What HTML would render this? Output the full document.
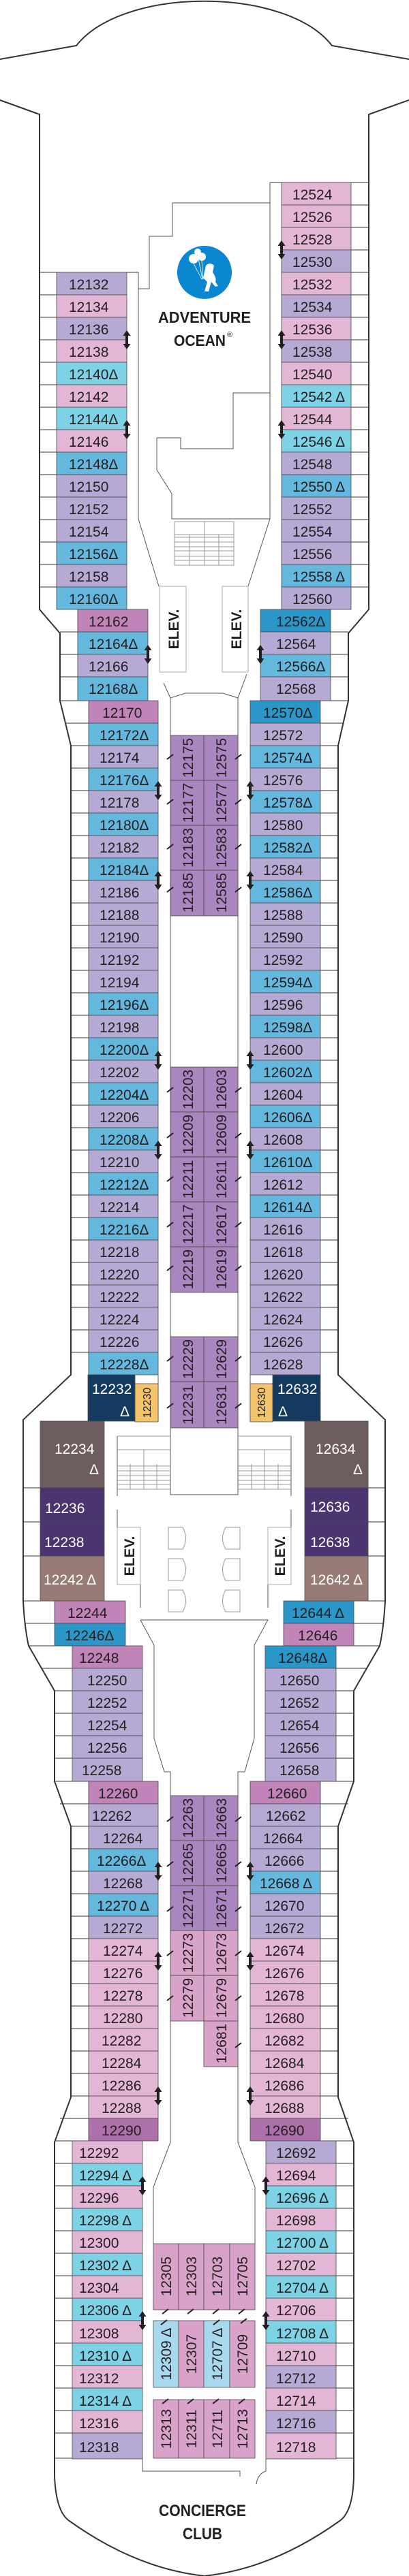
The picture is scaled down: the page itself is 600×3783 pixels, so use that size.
<!DOCTYPE html>
<html><head><meta charset="utf-8"><style>
html,body{margin:0;padding:0;background:#fff}
svg{display:block}
text{font-family:"Liberation Sans",sans-serif;font-size:21px;fill:#231f20}
.w{fill:#fff}
rect{stroke:#4a4a4a;stroke-width:.8}
.p{fill:#e4b6d5}.l{fill:#b6a9d3}.c{fill:#7dd3e5}.b{fill:#64b7dd}.d{fill:#2b97c8}.m{fill:#c084b9}
.u{fill:#a986bf}.k{fill:#d9a2c8}.v{fill:#ae70aa}.n{fill:#143b5f}.y{fill:#f3c46b}.r{fill:#6d5d5e}
.q{fill:#4a3570}.t{fill:#987b77}.lb{fill:#a7d8ee}
.ln{stroke:#555;stroke-width:1;fill:none}
.gl{stroke:#999;stroke-width:1;fill:none}
.bal{stroke:#333;stroke-width:1;fill:none}
.hd{font-weight:bold}
</style></head><body>
<svg width="600" height="3783" viewBox="0 0 600 3783" xmlns="http://www.w3.org/2000/svg">
<defs><path id="ar" d="M0,-14 L-5.5,-6 H-2 V6 H-5.5 L0,14 L5.5,6 H2 V-6 H5.5 Z" fill="#231f20"/></defs>
<!-- hull -->
<path d="M0,87 L112,67 C180,-20 420,-20 487,67 L600,87" stroke="#333" stroke-width="2" fill="none"/>
<path d="M0,147 L58,168 L58,895 L88,930 L88,1029 L104,1095 L104,2019 L34,2085 L34,2351 Q36,2390 42,2417 L80,2483 L80,2616 L104,2682 L104,3080 L80,3146 L80,3636 Q82,3690 103,3703 Q200,3772 300,3783 Q400,3772 497,3703 Q518,3690 519,3636 L519,3146 L496,3080 L496,2682 L519,2616 L519,2483 L557,2417 Q563,2390 565,2351 L565,2085 L496,2019 L496,1095 L511,1029 L511,930 L541,895 L541,168 L600,147" stroke="#333" stroke-width="2" fill="none"/>
<!-- balcony lines -->
<path class="bal" d="M58,400H203 M58,433H83 M58,466H83 M58,499H83 M58,532H83 M58,565H83 M58,598H83 M58,631H83 M58,664H83 M58,697H83 M58,730H83 M58,763H83 M58,796H83 M58,829H83 M58,862H83
M396,268H541 M515,301H541 M515,334H541 M515,367H541 M515,400H541 M515,433H541 M515,466H541 M515,499H541 M515,532H541 M515,565H541 M515,598H541 M515,631H541 M515,664H541 M515,697H541 M515,730H541 M515,763H541 M515,796H541 M515,829H541 M515,862H541
M88,928H114 M88,961H114 M88,994H114 M88,1029H130 M96,1062H130 M104,1095H130
M485,928H511 M485,961H511 M485,994H511 M470,1029H511 M470,1062H503 M470,1095H496
M104,1128H130 M104,1161H130 M104,1194H130 M104,1227H130 M104,1260H130 M104,1293H130 M104,1326H130 M104,1359H130 M104,1392H130 M104,1425H130 M104,1458H130 M104,1491H130 M104,1524H130 M104,1557H130 M104,1590H130 M104,1623H130 M104,1656H130 M104,1689H130 M104,1722H130 M104,1755H130 M104,1788H130 M104,1821H130 M104,1854H130 M104,1887H130 M104,1920H130 M104,1953H130 M104,1986H130
M470,1128H496 M470,1161H496 M470,1194H496 M470,1227H496 M470,1260H496 M470,1293H496 M470,1326H496 M470,1359H496 M470,1392H496 M470,1425H496 M470,1458H496 M470,1491H496 M470,1524H496 M470,1557H496 M470,1590H496 M470,1623H496 M470,1656H496 M470,1689H496 M470,1722H496 M470,1755H496 M470,1788H496 M470,1821H496 M470,1854H496 M470,1887H496 M470,1920H496 M470,1953H496 M470,1986H496
M34,2185H59 M34,2235H59 M34,2285H59 M34,2351H80 M540,2185H565 M540,2235H565 M540,2285H565 M519,2351H565
M37,2384H80 M42,2417H106 M62,2450H106 M80,2483H106 M80,2516H106 M80,2549H106 M80,2582H106 M80,2616H130 M88,2649H130
M519,2384H562 M493,2417H557 M493,2450H538 M493,2483H519 M493,2516H519 M493,2549H519 M493,2582H519 M470,2616H519 M470,2649H511
M104,2682H130 M104,2715H130 M104,2748H130 M104,2781H130 M104,2814H130 M104,2847H130 M104,2880H130 M104,2913H130 M104,2946H130 M104,2979H130 M104,3012H130 M104,3045H130 M104,3078H130 M88,3111H130 M80,3144H130
M470,2682H496 M470,2715H496 M470,2748H496 M470,2781H496 M470,2814H496 M470,2847H496 M470,2880H496 M470,2913H496 M470,2946H496 M470,2979H496 M470,3012H496 M470,3045H496 M470,3078H496 M470,3111H511 M470,3144H519
M80,3177H106 M80,3210H106 M80,3243H106 M80,3276H106 M80,3309H106 M80,3342H106 M80,3375H106 M80,3408H106 M80,3441H106 M80,3474H106 M80,3507H106 M80,3540H106 M80,3573H106 M80,3610H106
M493,3177H519 M493,3210H519 M493,3243H519 M493,3276H519 M493,3309H519 M493,3342H519 M493,3375H519 M493,3408H519 M493,3441H519 M493,3474H519 M493,3507H519 M493,3540H519 M493,3573H519 M493,3610H519"/>
<!-- interior lines -->
<path class="ln" d="M203,400 V762 L233,861 M203,424 H219 V347 H253 V298 H396 M396,268 V762 L364,861 M396,577 H342 V659 H265 V643 H230 V690 L252,725 V762 H396
M240,1003 L250,1025 L272,1018 H327 L349,1025 L362,990
M250,1025 V2195 H349 V1025
M232,2019 V2088 M367,2019 V2088
M172,2109 V2197 M172,2217 V2243 M206,2327 V2361 M427,2109 V2197 M427,2217 V2243 M393,2327 V2361
M206,2379 H393 L373,2416 V2553 L359,2602 H349 V3146 L374,3212 V3295 M206,2379 L226,2416 V2553 L241,2602 H250 V3146 L225,3212 V3295
M209,3611 V3629 H352 V3637 M390,3611 V3629 Q378,3633 376,3648"/>
<path class="gl" d="M256,766 H343 V830 H256 Z M300,766 V830 M256,785 H343 M256,789 H343 M256,796 H343 M256,803 H343 M256,809 H343 M256,817 H343 M256,823 H343 M278,785 V830 M321,785 V830
M172,2109 H250 M172,2129 H250 M211,2129 V2187 M191,2150 V2187 M230,2150 V2187 M172,2153 H250 M172,2160 H250 M172,2167 H250 M172,2174 H250 M172,2180 H250 M172,2187 H250
M349,2109 H427 M349,2129 H427 M388,2129 V2187 M408,2150 V2187 M369,2150 V2187 M349,2153 H427 M349,2160 H427 M349,2167 H427 M349,2174 H427 M349,2180 H427 M349,2187 H427
M247,2243 H268 Q277,2259 268,2275 H247 Z M247,2289 H268 Q277,2305 268,2321 H247 Z M247,2335 H268 Q277,2351 268,2367 H247 Z
M352,2243 H331 Q322,2259 331,2275 H352 Z M352,2289 H331 Q322,2305 331,2321 H352 Z M352,2335 H331 Q322,2351 331,2367 H352 Z"/>
<!-- ELEV -->
<rect x="234" y="861" width="39" height="126" class="w" style="stroke:#999"/>
<rect x="326" y="861" width="38" height="126" class="w" style="stroke:#999"/>
<rect x="172" y="2243" width="34" height="84" class="w" style="stroke:#999"/>
<rect x="393" y="2243" width="34" height="84" class="w" style="stroke:#999"/>
<g class="hd" style="font-size:20px">
<text transform="translate(262,924) rotate(-90)" text-anchor="middle" class="hd">ELEV.</text>
<text transform="translate(354,924) rotate(-90)" text-anchor="middle" class="hd">ELEV.</text>
<text transform="translate(197,2285) rotate(-90)" text-anchor="middle" class="hd">ELEV.</text>
<text transform="translate(418,2285) rotate(-90)" text-anchor="middle" class="hd">ELEV.</text>
</g>
<!-- Adventure Ocean -->
<ellipse cx="300" cy="400" rx="40" ry="39" fill="#0a87d0"/>
<g fill="#fff"><circle cx="284" cy="380" r="7"/><circle cx="296" cy="377" r="6"/><circle cx="290" cy="370" r="5"/>
<path d="M302,390 q6,-6 12,0 l-2,10 q6,8 4,14 l4,6 -4,1 -6,-7 -4,14 -6,0 4,-14 -6,-6 z"/></g>
<path d="M284,387 L296,410 M296,383 L298,410 M290,375 L297,410" stroke="#fff" stroke-width="0.8"/>
<text x="300" y="474" text-anchor="middle" class="hd" style="font-size:23px" textLength="136" lengthAdjust="spacingAndGlyphs">ADVENTURE</text>
<text x="255" y="508" class="hd" style="font-size:23px" textLength="76" lengthAdjust="spacingAndGlyphs">OCEAN</text>
<text x="333" y="495" style="font-size:11px">®</text>
<text x="297" y="3695" text-anchor="middle" class="hd" style="font-size:24px" textLength="128" lengthAdjust="spacingAndGlyphs">CONCIERGE</text>
<text x="297" y="3729" text-anchor="middle" class="hd" style="font-size:24px" textLength="58" lengthAdjust="spacingAndGlyphs">CLUB</text>

<!-- Left A -->
<rect x="83" y="400" width="103" height="33" class="l"/><text x="101" y="425">12132</text>
<rect x="83" y="433" width="103" height="33" class="p"/><text x="101" y="458">12134</text>
<rect x="83" y="466" width="103" height="33" class="l"/><text x="101" y="491">12136</text>
<rect x="83" y="499" width="103" height="33" class="p"/><text x="101" y="524">12138</text>
<rect x="83" y="532" width="103" height="33" class="c"/><text x="101" y="557">12140Δ</text>
<rect x="83" y="565" width="103" height="33" class="p"/><text x="101" y="590">12142</text>
<rect x="83" y="598" width="103" height="33" class="c"/><text x="101" y="623">12144Δ</text>
<rect x="83" y="631" width="103" height="33" class="p"/><text x="101" y="656">12146</text>
<rect x="83" y="664" width="103" height="33" class="b"/><text x="101" y="689">12148Δ</text>
<rect x="83" y="697" width="103" height="33" class="l"/><text x="101" y="722">12150</text>
<rect x="83" y="730" width="103" height="33" class="l"/><text x="101" y="755">12152</text>
<rect x="83" y="763" width="103" height="33" class="l"/><text x="101" y="788">12154</text>
<rect x="83" y="796" width="103" height="33" class="b"/><text x="101" y="821">12156Δ</text>
<rect x="83" y="829" width="103" height="33" class="l"/><text x="101" y="854">12158</text>
<rect x="83" y="862" width="103" height="33" class="b"/><text x="101" y="887">12160Δ</text>
<!-- Right A -->
<rect x="413" y="268" width="102" height="33" class="p"/><text x="429" y="293">12524</text>
<rect x="413" y="301" width="102" height="33" class="p"/><text x="429" y="326">12526</text>
<rect x="413" y="334" width="102" height="33" class="p"/><text x="429" y="359">12528</text>
<rect x="413" y="367" width="102" height="33" class="l"/><text x="429" y="392">12530</text>
<rect x="413" y="400" width="102" height="33" class="p"/><text x="429" y="425">12532</text>
<rect x="413" y="433" width="102" height="33" class="l"/><text x="429" y="458">12534</text>
<rect x="413" y="466" width="102" height="33" class="p"/><text x="429" y="491">12536</text>
<rect x="413" y="499" width="102" height="33" class="l"/><text x="429" y="524">12538</text>
<rect x="413" y="532" width="102" height="33" class="p"/><text x="429" y="557">12540</text>
<rect x="413" y="565" width="102" height="33" class="c"/><text x="429" y="590">12542 Δ</text>
<rect x="413" y="598" width="102" height="33" class="p"/><text x="429" y="623">12544</text>
<rect x="413" y="631" width="102" height="33" class="c"/><text x="429" y="656">12546 Δ</text>
<rect x="413" y="664" width="102" height="33" class="l"/><text x="429" y="689">12548</text>
<rect x="413" y="697" width="102" height="33" class="b"/><text x="429" y="722">12550 Δ</text>
<rect x="413" y="730" width="102" height="33" class="l"/><text x="429" y="755">12552</text>
<rect x="413" y="763" width="102" height="33" class="l"/><text x="429" y="788">12554</text>
<rect x="413" y="796" width="102" height="33" class="l"/><text x="429" y="821">12556</text>
<rect x="413" y="829" width="102" height="33" class="b"/><text x="429" y="854">12558 Δ</text>
<rect x="413" y="862" width="102" height="33" class="l"/><text x="429" y="887">12560</text>
<!-- B -->
<rect x="114" y="895" width="103" height="33" class="m"/><text x="130" y="920">12162</text>
<rect x="114" y="928" width="103" height="33" class="b"/><text x="130" y="953">12164Δ</text>
<rect x="114" y="961" width="103" height="33" class="l"/><text x="130" y="986">12166</text>
<rect x="114" y="994" width="103" height="35" class="b"/><text x="130" y="1019">12168Δ</text>
<rect x="382" y="895" width="103" height="33" class="d"/><text x="405" y="920">12562Δ</text>
<rect x="382" y="928" width="103" height="33" class="l"/><text x="405" y="953">12564</text>
<rect x="382" y="961" width="103" height="33" class="b"/><text x="405" y="986">12566Δ</text>
<rect x="382" y="994" width="103" height="35" class="l"/><text x="405" y="1019">12568</text>
<!-- Left C -->
<rect x="130" y="1029" width="102" height="33" class="m"/><text x="150" y="1054">12170</text>
<rect x="130" y="1062" width="102" height="33" class="b"/><text x="146" y="1087">12172Δ</text>
<rect x="130" y="1095" width="102" height="33" class="l"/><text x="146" y="1120">12174</text>
<rect x="130" y="1128" width="102" height="33" class="b"/><text x="146" y="1153">12176Δ</text>
<rect x="130" y="1161" width="102" height="33" class="l"/><text x="146" y="1186">12178</text>
<rect x="130" y="1194" width="102" height="33" class="b"/><text x="146" y="1219">12180Δ</text>
<rect x="130" y="1227" width="102" height="33" class="l"/><text x="146" y="1252">12182</text>
<rect x="130" y="1260" width="102" height="33" class="b"/><text x="146" y="1285">12184Δ</text>
<rect x="130" y="1293" width="102" height="33" class="l"/><text x="146" y="1318">12186</text>
<rect x="130" y="1326" width="102" height="33" class="l"/><text x="146" y="1351">12188</text>
<rect x="130" y="1359" width="102" height="33" class="l"/><text x="146" y="1384">12190</text>
<rect x="130" y="1392" width="102" height="33" class="l"/><text x="146" y="1417">12192</text>
<rect x="130" y="1425" width="102" height="33" class="l"/><text x="146" y="1450">12194</text>
<rect x="130" y="1458" width="102" height="33" class="b"/><text x="146" y="1483">12196Δ</text>
<rect x="130" y="1491" width="102" height="33" class="l"/><text x="146" y="1516">12198</text>
<rect x="130" y="1524" width="102" height="33" class="b"/><text x="146" y="1549">12200Δ</text>
<rect x="130" y="1557" width="102" height="33" class="l"/><text x="146" y="1582">12202</text>
<rect x="130" y="1590" width="102" height="33" class="b"/><text x="146" y="1615">12204Δ</text>
<rect x="130" y="1623" width="102" height="33" class="l"/><text x="146" y="1648">12206</text>
<rect x="130" y="1656" width="102" height="33" class="b"/><text x="146" y="1681">12208Δ</text>
<rect x="130" y="1689" width="102" height="33" class="l"/><text x="146" y="1714">12210</text>
<rect x="130" y="1722" width="102" height="33" class="b"/><text x="146" y="1747">12212Δ</text>
<rect x="130" y="1755" width="102" height="33" class="l"/><text x="146" y="1780">12214</text>
<rect x="130" y="1788" width="102" height="33" class="b"/><text x="146" y="1813">12216Δ</text>
<rect x="130" y="1821" width="102" height="33" class="l"/><text x="146" y="1846">12218</text>
<rect x="130" y="1854" width="102" height="33" class="l"/><text x="146" y="1879">12220</text>
<rect x="130" y="1887" width="102" height="33" class="l"/><text x="146" y="1912">12222</text>
<rect x="130" y="1920" width="102" height="33" class="l"/><text x="146" y="1945">12224</text>
<rect x="130" y="1953" width="102" height="33" class="l"/><text x="146" y="1978">12226</text>
<rect x="130" y="1986" width="102" height="33" class="b"/><text x="146" y="2011">12228Δ</text>
<!-- Right C -->
<rect x="367" y="1029" width="103" height="33" class="d"/><text x="386" y="1054">12570Δ</text>
<rect x="367" y="1062" width="103" height="33" class="l"/><text x="386" y="1087">12572</text>
<rect x="367" y="1095" width="103" height="33" class="b"/><text x="386" y="1120">12574Δ</text>
<rect x="367" y="1128" width="103" height="33" class="l"/><text x="386" y="1153">12576</text>
<rect x="367" y="1161" width="103" height="33" class="b"/><text x="386" y="1186">12578Δ</text>
<rect x="367" y="1194" width="103" height="33" class="l"/><text x="386" y="1219">12580</text>
<rect x="367" y="1227" width="103" height="33" class="b"/><text x="386" y="1252">12582Δ</text>
<rect x="367" y="1260" width="103" height="33" class="l"/><text x="386" y="1285">12584</text>
<rect x="367" y="1293" width="103" height="33" class="b"/><text x="386" y="1318">12586Δ</text>
<rect x="367" y="1326" width="103" height="33" class="l"/><text x="386" y="1351">12588</text>
<rect x="367" y="1359" width="103" height="33" class="l"/><text x="386" y="1384">12590</text>
<rect x="367" y="1392" width="103" height="33" class="l"/><text x="386" y="1417">12592</text>
<rect x="367" y="1425" width="103" height="33" class="b"/><text x="386" y="1450">12594Δ</text>
<rect x="367" y="1458" width="103" height="33" class="l"/><text x="386" y="1483">12596</text>
<rect x="367" y="1491" width="103" height="33" class="b"/><text x="386" y="1516">12598Δ</text>
<rect x="367" y="1524" width="103" height="33" class="l"/><text x="386" y="1549">12600</text>
<rect x="367" y="1557" width="103" height="33" class="b"/><text x="386" y="1582">12602Δ</text>
<rect x="367" y="1590" width="103" height="33" class="l"/><text x="386" y="1615">12604</text>
<rect x="367" y="1623" width="103" height="33" class="b"/><text x="386" y="1648">12606Δ</text>
<rect x="367" y="1656" width="103" height="33" class="l"/><text x="386" y="1681">12608</text>
<rect x="367" y="1689" width="103" height="33" class="b"/><text x="386" y="1714">12610Δ</text>
<rect x="367" y="1722" width="103" height="33" class="l"/><text x="386" y="1747">12612</text>
<rect x="367" y="1755" width="103" height="33" class="b"/><text x="386" y="1780">12614Δ</text>
<rect x="367" y="1788" width="103" height="33" class="l"/><text x="386" y="1813">12616</text>
<rect x="367" y="1821" width="103" height="33" class="l"/><text x="386" y="1846">12618</text>
<rect x="367" y="1854" width="103" height="33" class="l"/><text x="386" y="1879">12620</text>
<rect x="367" y="1887" width="103" height="33" class="l"/><text x="386" y="1912">12622</text>
<rect x="367" y="1920" width="103" height="33" class="l"/><text x="386" y="1945">12624</text>
<rect x="367" y="1953" width="103" height="33" class="l"/><text x="386" y="1978">12626</text>
<rect x="367" y="1986" width="103" height="33" class="l"/><text x="386" y="2011">12628</text>
<!-- Center blocks 1 -->
<g>
<rect x="250" y="1080" width="49" height="66" class="u"/><rect x="299" y="1080" width="50" height="66" class="u"/>
<rect x="250" y="1146" width="49" height="66" class="u"/><rect x="299" y="1146" width="50" height="66" class="u"/>
<rect x="250" y="1212" width="49" height="66" class="u"/><rect x="299" y="1212" width="50" height="66" class="u"/>
<rect x="250" y="1278" width="49" height="67" class="u"/><rect x="299" y="1278" width="50" height="67" class="u"/>
<rect x="250" y="1567" width="49" height="66" class="u"/><rect x="299" y="1567" width="50" height="66" class="u"/>
<rect x="250" y="1633" width="49" height="66" class="u"/><rect x="299" y="1633" width="50" height="66" class="u"/>
<rect x="250" y="1699" width="49" height="66" class="u"/><rect x="299" y="1699" width="50" height="66" class="u"/>
<rect x="250" y="1765" width="49" height="66" class="u"/><rect x="299" y="1765" width="50" height="66" class="u"/>
<rect x="250" y="1831" width="49" height="67" class="u"/><rect x="299" y="1831" width="50" height="67" class="u"/>
<rect x="250" y="1963" width="49" height="66" class="u"/><rect x="299" y="1963" width="50" height="66" class="u"/>
<rect x="250" y="2029" width="49" height="68" class="u"/><rect x="299" y="2029" width="50" height="68" class="u"/>
</g>
<g text-anchor="middle">
<text transform="translate(283,1113) rotate(-90)">12175</text><text transform="translate(332,1113) rotate(-90)">12575</text>
<text transform="translate(283,1179) rotate(-90)">12177</text><text transform="translate(332,1179) rotate(-90)">12577</text>
<text transform="translate(283,1245) rotate(-90)">12183</text><text transform="translate(332,1245) rotate(-90)">12583</text>
<text transform="translate(283,1311) rotate(-90)">12185</text><text transform="translate(332,1311) rotate(-90)">12585</text>
<text transform="translate(283,1600) rotate(-90)">12203</text><text transform="translate(332,1600) rotate(-90)">12603</text>
<text transform="translate(283,1666) rotate(-90)">12209</text><text transform="translate(332,1666) rotate(-90)">12609</text>
<text transform="translate(283,1732) rotate(-90)">12211</text><text transform="translate(332,1732) rotate(-90)">12611</text>
<text transform="translate(283,1798) rotate(-90)">12217</text><text transform="translate(332,1798) rotate(-90)">12617</text>
<text transform="translate(283,1864) rotate(-90)">12219</text><text transform="translate(332,1864) rotate(-90)">12619</text>
<text transform="translate(283,1996) rotate(-90)">12229</text><text transform="translate(332,1996) rotate(-90)">12629</text>
<text transform="translate(283,2063) rotate(-90)">12231</text><text transform="translate(332,2063) rotate(-90)">12631</text>
</g>
<!-- 12232/12632 -->
<rect x="129" y="2019" width="69" height="68" class="n"/><text x="135" y="2047" class="w" style="fill:#fff">12232</text><text x="176" y="2080" style="fill:#fff">Δ</text>
<rect x="198" y="2032" width="34" height="56" class="y"/><text transform="translate(221,2060) rotate(-90)" text-anchor="middle" style="font-size:16px">12230</text>
<rect x="400" y="2019" width="70" height="68" class="n"/><text x="407" y="2047" style="fill:#fff">12632</text><text x="408" y="2080" style="fill:#fff">Δ</text>
<rect x="367" y="2032" width="33" height="56" class="y"/><text transform="translate(389,2060) rotate(-90)" text-anchor="middle" style="font-size:16px">12630</text>
<!-- D -->
<rect x="59" y="2087" width="94" height="98" class="r"/><text x="80" y="2135" style="fill:#fff">12234</text><text x="131" y="2165" style="fill:#fff">Δ</text>
<rect x="59" y="2185" width="94" height="50" class="q"/><text x="66" y="2222" style="fill:#fff">12236</text>
<rect x="59" y="2235" width="94" height="50" class="q"/><text x="65" y="2272" style="fill:#fff">12238</text>
<rect x="59" y="2285" width="94" height="66" class="t"/><text x="64" y="2327" style="fill:#fff">12242 Δ</text>
<rect x="447" y="2087" width="93" height="98" class="r"/><text x="463" y="2135" style="fill:#fff">12634</text><text x="518" y="2165" style="fill:#fff">Δ</text>
<rect x="447" y="2185" width="93" height="50" class="q"/><text x="455" y="2220" style="fill:#fff">12636</text>
<rect x="447" y="2235" width="93" height="50" class="q"/><text x="455" y="2272" style="fill:#fff">12638</text>
<rect x="447" y="2285" width="93" height="66" class="t"/><text x="455" y="2327" style="fill:#fff">12642 Δ</text>
<!-- E F -->
<rect x="80" y="2351" width="104" height="33" class="m"/><text x="99" y="2376">12244</text>
<rect x="80" y="2384" width="104" height="33" class="d"/><text x="95" y="2409">12246Δ</text>
<rect x="416" y="2351" width="103" height="33" class="d"/><text x="428" y="2376">12644 Δ</text>
<rect x="416" y="2384" width="103" height="33" class="m"/><text x="437" y="2409">12646</text>
<rect x="106" y="2417" width="103" height="33" class="m"/><text x="116" y="2442">12248</text>
<rect x="106" y="2450" width="103" height="33" class="l"/><text x="128" y="2475">12250</text>
<rect x="106" y="2483" width="103" height="33" class="l"/><text x="128" y="2508">12252</text>
<rect x="106" y="2516" width="103" height="33" class="l"/><text x="128" y="2541">12254</text>
<rect x="106" y="2549" width="103" height="33" class="l"/><text x="128" y="2574">12256</text>
<rect x="106" y="2582" width="103" height="34" class="l"/><text x="120" y="2607">12258</text>
<rect x="389" y="2417" width="104" height="33" class="d"/><text x="408" y="2442">12648Δ</text>
<rect x="389" y="2450" width="104" height="33" class="l"/><text x="410" y="2475">12650</text>
<rect x="389" y="2483" width="104" height="33" class="l"/><text x="410" y="2508">12652</text>
<rect x="389" y="2516" width="104" height="33" class="l"/><text x="410" y="2541">12654</text>
<rect x="389" y="2549" width="104" height="33" class="l"/><text x="410" y="2574">12656</text>
<rect x="389" y="2582" width="104" height="34" class="l"/><text x="410" y="2607">12658</text>
<!-- G left -->
<rect x="130" y="2616" width="102" height="33" class="m"/><text x="144" y="2641">12260</text>
<rect x="130" y="2649" width="102" height="33" class="l"/><text x="135" y="2674">12262</text>
<rect x="130" y="2682" width="102" height="33" class="l"/><text x="151" y="2707">12264</text>
<rect x="130" y="2715" width="102" height="33" class="b"/><text x="142" y="2740">12266Δ</text>
<rect x="130" y="2748" width="102" height="33" class="l"/><text x="151" y="2773">12268</text>
<rect x="130" y="2781" width="102" height="33" class="b"/><text x="142" y="2806">12270 Δ</text>
<rect x="130" y="2814" width="102" height="33" class="l"/><text x="151" y="2839">12272</text>
<rect x="130" y="2847" width="102" height="33" class="p"/><text x="151" y="2872">12274</text>
<rect x="130" y="2880" width="102" height="33" class="p"/><text x="151" y="2905">12276</text>
<rect x="130" y="2913" width="102" height="33" class="p"/><text x="151" y="2938">12278</text>
<rect x="130" y="2946" width="102" height="33" class="p"/><text x="151" y="2971">12280</text>
<rect x="130" y="2979" width="102" height="33" class="p"/><text x="149" y="3004">12282</text>
<rect x="130" y="3012" width="102" height="33" class="p"/><text x="149" y="3037">12284</text>
<rect x="130" y="3045" width="102" height="33" class="p"/><text x="149" y="3070">12286</text>
<rect x="130" y="3078" width="102" height="33" class="p"/><text x="149" y="3103">12288</text>
<rect x="130" y="3111" width="102" height="33" class="v"/><text x="149" y="3136">12290</text>
<!-- G right -->
<rect x="367" y="2616" width="103" height="33" class="m"/><text x="392" y="2641">12660</text>
<rect x="367" y="2649" width="103" height="33" class="l"/><text x="390" y="2674">12662</text>
<rect x="367" y="2682" width="103" height="33" class="l"/><text x="386" y="2707">12664</text>
<rect x="367" y="2715" width="103" height="33" class="l"/><text x="388" y="2740">12666</text>
<rect x="367" y="2748" width="103" height="33" class="b"/><text x="381" y="2773">12668 Δ</text>
<rect x="367" y="2781" width="103" height="33" class="l"/><text x="388" y="2806">12670</text>
<rect x="367" y="2814" width="103" height="33" class="l"/><text x="388" y="2839">12672</text>
<rect x="367" y="2847" width="103" height="33" class="p"/><text x="388" y="2872">12674</text>
<rect x="367" y="2880" width="103" height="33" class="p"/><text x="388" y="2905">12676</text>
<rect x="367" y="2913" width="103" height="33" class="p"/><text x="388" y="2938">12678</text>
<rect x="367" y="2946" width="103" height="33" class="p"/><text x="388" y="2971">12680</text>
<rect x="367" y="2979" width="103" height="33" class="p"/><text x="388" y="3004">12682</text>
<rect x="367" y="3012" width="103" height="33" class="p"/><text x="388" y="3037">12684</text>
<rect x="367" y="3045" width="103" height="33" class="p"/><text x="388" y="3070">12686</text>
<rect x="367" y="3078" width="103" height="33" class="p"/><text x="388" y="3103">12688</text>
<rect x="367" y="3111" width="103" height="33" class="v"/><text x="388" y="3136">12690</text>
<!-- center G -->
<rect x="250" y="2637" width="49" height="66" class="u"/><rect x="299" y="2637" width="50" height="66" class="u"/>
<rect x="250" y="2703" width="49" height="66" class="u"/><rect x="299" y="2703" width="50" height="66" class="u"/>
<rect x="250" y="2769" width="49" height="66" class="u"/><rect x="299" y="2769" width="50" height="66" class="u"/>
<rect x="250" y="2835" width="49" height="66" class="k"/><rect x="299" y="2835" width="50" height="66" class="k"/>
<rect x="250" y="2901" width="49" height="67" class="k"/><rect x="299" y="2901" width="50" height="67" class="k"/>
<rect x="299" y="2968" width="50" height="67" class="k"/>
<g text-anchor="middle">
<text transform="translate(283,2670) rotate(-90)">12263</text><text transform="translate(332,2670) rotate(-90)">12663</text>
<text transform="translate(283,2736) rotate(-90)">12265</text><text transform="translate(332,2736) rotate(-90)">12665</text>
<text transform="translate(283,2802) rotate(-90)">12271</text><text transform="translate(332,2802) rotate(-90)">12671</text>
<text transform="translate(283,2868) rotate(-90)">12273</text><text transform="translate(332,2868) rotate(-90)">12673</text>
<text transform="translate(283,2934) rotate(-90)">12279</text><text transform="translate(332,2934) rotate(-90)">12679</text>
<text transform="translate(332,3001) rotate(-90)">12681</text>
</g>
<!-- H left -->
<rect x="106" y="3144" width="103" height="33" class="p"/><text x="116" y="3169">12292</text>
<rect x="106" y="3177" width="103" height="33" class="c"/><text x="116" y="3202">12294 Δ</text>
<rect x="106" y="3210" width="103" height="33" class="p"/><text x="116" y="3235">12296</text>
<rect x="106" y="3243" width="103" height="33" class="c"/><text x="116" y="3268">12298 Δ</text>
<rect x="106" y="3276" width="103" height="33" class="p"/><text x="116" y="3301">12300</text>
<rect x="106" y="3309" width="103" height="33" class="c"/><text x="116" y="3334">12302 Δ</text>
<rect x="106" y="3342" width="103" height="33" class="p"/><text x="116" y="3367">12304</text>
<rect x="106" y="3375" width="103" height="33" class="c"/><text x="116" y="3400">12306 Δ</text>
<rect x="106" y="3408" width="103" height="33" class="p"/><text x="116" y="3434">12308</text>
<rect x="106" y="3441" width="103" height="33" class="c"/><text x="116" y="3467">12310 Δ</text>
<rect x="106" y="3474" width="103" height="33" class="p"/><text x="116" y="3500">12312</text>
<rect x="106" y="3507" width="103" height="33" class="c"/><text x="116" y="3533">12314 Δ</text>
<rect x="106" y="3540" width="103" height="33" class="p"/><text x="116" y="3566">12316</text>
<rect x="106" y="3573" width="103" height="38" class="l"/><text x="116" y="3601">12318</text>
<!-- H right -->
<rect x="390" y="3144" width="103" height="33" class="l"/><text x="405" y="3169">12692</text>
<rect x="390" y="3177" width="103" height="33" class="p"/><text x="405" y="3202">12694</text>
<rect x="390" y="3210" width="103" height="33" class="c"/><text x="405" y="3235">12696 Δ</text>
<rect x="390" y="3243" width="103" height="33" class="p"/><text x="405" y="3268">12698</text>
<rect x="390" y="3276" width="103" height="33" class="c"/><text x="405" y="3301">12700 Δ</text>
<rect x="390" y="3309" width="103" height="33" class="p"/><text x="405" y="3334">12702</text>
<rect x="390" y="3342" width="103" height="33" class="c"/><text x="405" y="3367">12704 Δ</text>
<rect x="390" y="3375" width="103" height="33" class="p"/><text x="405" y="3400">12706</text>
<rect x="390" y="3408" width="103" height="33" class="c"/><text x="405" y="3434">12708 Δ</text>
<rect x="390" y="3441" width="103" height="33" class="p"/><text x="405" y="3467">12710</text>
<rect x="390" y="3474" width="103" height="33" class="l"/><text x="405" y="3500">12712</text>
<rect x="390" y="3507" width="103" height="33" class="p"/><text x="405" y="3533">12714</text>
<rect x="390" y="3540" width="103" height="33" class="l"/><text x="405" y="3566">12716</text>
<rect x="390" y="3573" width="103" height="38" class="p"/><text x="405" y="3601">12718</text>
<!-- bottom center block -->
<rect x="225" y="3295" width="37" height="97" class="k"/><rect x="262" y="3295" width="37" height="97" class="k"/><rect x="299" y="3295" width="38" height="97" class="k"/><rect x="337" y="3295" width="37" height="97" class="k"/>
<rect x="225" y="3408" width="37" height="98" class="lb"/><rect x="262" y="3408" width="37" height="98" class="k"/><rect x="299" y="3408" width="38" height="98" class="lb"/><rect x="337" y="3408" width="37" height="98" class="k"/>
<rect x="225" y="3524" width="37" height="86" class="k"/><rect x="262" y="3524" width="37" height="86" class="k"/><rect x="299" y="3524" width="38" height="86" class="k"/><rect x="337" y="3524" width="37" height="86" class="k"/>
<g text-anchor="middle">
<text transform="translate(251,3343) rotate(-90)">12305</text><text transform="translate(288,3343) rotate(-90)">12303</text><text transform="translate(326,3343) rotate(-90)">12703</text><text transform="translate(363,3343) rotate(-90)">12705</text>
<text transform="translate(251,3457) rotate(-90)">12309 Δ</text><text transform="translate(288,3457) rotate(-90)">12307</text><text transform="translate(326,3457) rotate(-90)">12707 Δ</text><text transform="translate(363,3457) rotate(-90)">12709</text>
<text transform="translate(251,3567) rotate(-90)">12313</text><text transform="translate(288,3567) rotate(-90)">12311</text><text transform="translate(326,3567) rotate(-90)">12711</text><text transform="translate(363,3567) rotate(-90)">12713</text>
</g>
<!-- door ticks -->
<path stroke="#231f20" stroke-width="2" fill="none" d="
M245,1115 L254,1108 M345,1115 L354,1108 M245,1181 L254,1174 M345,1181 L354,1174 M245,1247 L254,1240 M345,1247 L354,1240 M245,1310 L254,1303 M345,1310 L354,1303
M245,1604 L254,1597 M345,1604 L354,1597 M245,1671 L254,1664 M345,1671 L354,1664 M245,1735 L254,1728 M345,1735 L354,1728 M245,1802 L254,1795 M345,1802 L354,1795 M245,1866 L254,1859 M345,1866 L354,1859
M245,1999 L254,1992 M345,1999 L354,1992 M245,2068 L254,2061 M345,2068 L354,2061
M245,2675 L254,2668 M345,2675 L354,2668 M245,2741 L254,2734 M345,2741 L354,2734 M245,2807 L254,2800 M345,2807 L354,2800
M245,2872 L254,2865 M345,2872 L354,2865 M245,2938 L254,2931 M345,2938 L354,2931 M345,3007 L354,3000
M238,3398 L247,3391 M236,3414 L245,3407 M275,3398 L284,3391 M312,3398 L321,3391 M313,3414 L322,3407 M350,3398 L359,3391 M353,3412 L362,3405
M238,3530 L247,3523 M275,3530 L284,3523 M312,3530 L321,3523 M350,3530 L359,3523"/>
<!-- arrows -->
<use href="#ar" x="186" y="499"/><use href="#ar" x="186" y="631"/><use href="#ar" x="217" y="961"/>
<use href="#ar" x="232" y="1161"/><use href="#ar" x="232" y="1293"/><use href="#ar" x="232" y="1557"/><use href="#ar" x="232" y="1689"/>
<use href="#ar" x="232" y="2748"/><use href="#ar" x="232" y="2880"/><use href="#ar" x="232" y="3078"/>
<use href="#ar" x="209" y="3210"/><use href="#ar" x="209" y="3408"/>
<use href="#ar" x="413" y="367"/><use href="#ar" x="413" y="499"/><use href="#ar" x="413" y="631"/><use href="#ar" x="382" y="961"/>
<use href="#ar" x="367" y="1161"/><use href="#ar" x="367" y="1293"/><use href="#ar" x="367" y="1557"/><use href="#ar" x="367" y="1689"/>
<use href="#ar" x="367" y="2748"/><use href="#ar" x="367" y="2880"/><use href="#ar" x="367" y="3078"/>
<use href="#ar" x="390" y="3210"/><use href="#ar" x="390" y="3408"/>
</svg>
</body></html>
